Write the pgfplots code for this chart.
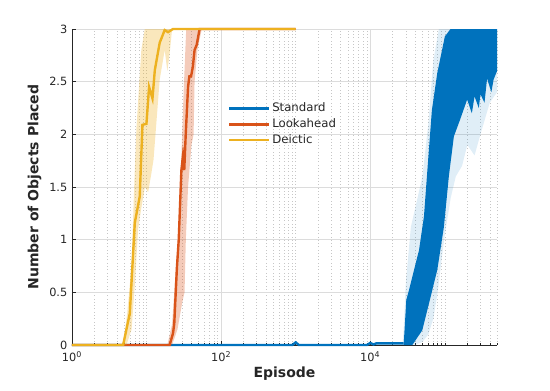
\documentclass[border=0pt]{standalone}
\usepackage{fontspec}
\setmainfont{DejaVu Sans}
\usepackage{pgfplots}
\pgfplotsset{compat=1.18}
\usetikzlibrary{calc}

\definecolor{mblue}{HTML}{0072BD}
\definecolor{morange}{HTML}{D95319}
\definecolor{myellow}{HTML}{EDB120}
\definecolor{txt}{HTML}{262626}
\definecolor{gridc}{HTML}{DCDCDC}

\begin{document}
\begin{tikzpicture}
\begin{axis}[
    name=ax,
    scale only axis,
    width=318.75pt, height=237pt,
    xmode=log,
    xmin=1, xmax=500000,
    ymin=0, ymax=3,
    clip=false,
    axis x line*=bottom,
    axis y line*=left,
    axis line style={txt, line width=0.5pt},
    tick align=inside,
    major tick length=3pt,
    minor tick length=1.6pt,
    tick style={txt, line width=0.4pt},
    xtick={1,100,10000},
    xticklabels={10\textsuperscript{0},10\textsuperscript{2},10\textsuperscript{4}},
    minor xtick={2,3,4,5,6,7,8,9,10,20,30,40,50,60,70,80,90,200,300,400,500,600,700,800,900,1000,2000,3000,4000,5000,6000,7000,8000,9000,20000,30000,40000,50000,60000,70000,80000,90000,100000,200000,300000,400000,500000},
    ytick={0,0.5,1,1.5,2,2.5,3},
    yticklabels={0,0.5,1,1.5,2,2.5,3},
    xmajorgrids, ymajorgrids, xminorgrids,
    major grid style={gridc, line width=0.4pt},
    minor grid style={gray!45, line width=0.4pt, dash pattern=on 0.45pt off 2pt},
    tick label style={font=\fontsize{8.5}{10}\selectfont, text=txt},
    xticklabel style={yshift=-1.5pt},
    xlabel={\textbf{Episode}},
    ylabel={\textbf{Number of Objects Placed}},
    label style={font=\fontsize{10.5}{12}\selectfont, text=txt},
    xlabel style={yshift=3pt},
    ylabel style={yshift=-1pt},
    legend style={at={(0.357,0.78)}, anchor=north west, draw=none, fill=none,
        font=\fontsize{8.8}{10}\selectfont, text=txt, row sep=1.2pt,
        nodes={inner sep=1.2pt}},
    legend cell align=left,
    legend image code/.code={\draw[#1, line width=2pt] (0pt,0pt) -- (30pt,0pt);},
]
% Standard: light spread band
\addplot[forget plot, fill=mblue, fill opacity=0.12, draw=none] coordinates {
 (27000,0) (28000,0.15) (30000,0.6) (35000,1.12) (40000,1.3) (50000,1.6)
 (60000,2.1) (70000,2.7) (83000,3) (500000,3)
 (500000,2.4) (400000,2.3) (300000,2.0) (250000,1.8) (200000,1.9) (170000,1.7)
 (140000,1.6) (120000,1.4) (100000,1.05) (90000,0.8) (80000,0.5) (70000,0.25)
 (60000,0.1) (50000,0.03) (40000,0)
} -- cycle;
% Standard: dense oscillation region
\addplot[forget plot, fill=mblue, draw=none] coordinates {
 (28000,0) (30400,0.43) (33000,0.52) (45000,0.9) (52400,1.22) (61000,1.85)
 (67000,2.23) (79000,2.58) (100000,2.93) (119000,3) (500000,3)
 (500000,2.6) (450000,2.52) (420000,2.4) (368000,2.53) (340000,2.3) (300000,2.38)
 (285000,2.25) (250000,2.36) (230000,2.2) (199000,2.33) (160000,2.14) (132000,1.98)
 (113000,1.6) (97000,1.12) (79000,0.71) (49800,0.14) (36600,0)
} -- cycle;
\addplot[mblue, line width=1.8pt] coordinates {
 (1,0) (900,0) (1000,0.025) (1100,0) (9000,0) (10000,0.02) (11000,0.005)
 (12000,0.015) (28000,0.015)
};
\addlegendentry{Standard}
% Lookahead
\addplot[forget plot, fill=morange, fill opacity=0.3, draw=none] coordinates {
 (19,0) (22,0.2) (24,0.6) (26.4,1.0) (29,1.7) (31.4,2.4) (34,3) (60,3)
 (55,3) (48,2.8) (44,2.5) (42.7,2.0) (40,1.9) (36,1.5) (33.6,1.0)
 (32.3,0.5) (30,0.4) (26,0.15) (22,0)
} -- cycle;
\addplot[morange, line width=1.8pt] coordinates {
 (1,0) (20.4,0) (22.6,0.11) (23.5,0.2) (25.5,0.73) (27,1.0) (29.3,1.66)
 (30.7,1.79) (32,1.66) (33.5,2.0) (36,2.45) (37.5,2.55) (39.5,2.55) (41.7,2.64)
 (44,2.8) (47,2.85) (51.4,3) (1000,3)
};
\addlegendentry{Lookahead}
% Deictic
\addplot[forget plot, fill=myellow, fill opacity=0.3, draw=none] coordinates {
 (4.85,0) (5.5,0.3) (6.28,0.75) (6.9,1.6) (7.33,2.07) (8.5,2.8) (9.46,3) (25,3)
 (22,3) (20.4,2.77) (19,2.6) (17.5,2.8) (15,2.52) (12.4,1.76) (11.6,1.63)
 (10.5,1.45) (9.5,1.5) (8.5,1.3) (7.7,1.1) (7.0,0.6) (6.3,0.15) (5.38,0)
} -- cycle;
\addplot[myellow, line width=1.8pt] coordinates {
 (1,0) (4.85,0) (5.96,0.30) (6.95,1.16) (8.1,1.41) (8.8,2.09) (9.96,2.10)
 (10.8,2.45) (12,2.34) (12.9,2.61) (15,2.87) (17.5,2.99) (19.4,2.97) (22.6,3)
 (1000,3)
};
\addlegendentry{Deictic}
\end{axis}
\pgfresetboundingbox
\path ($(ax.south west)+(-54pt,-33.75pt)$) rectangle ($(ax.north east)+(39.75pt,21.75pt)$);
\end{tikzpicture}
\end{document}
